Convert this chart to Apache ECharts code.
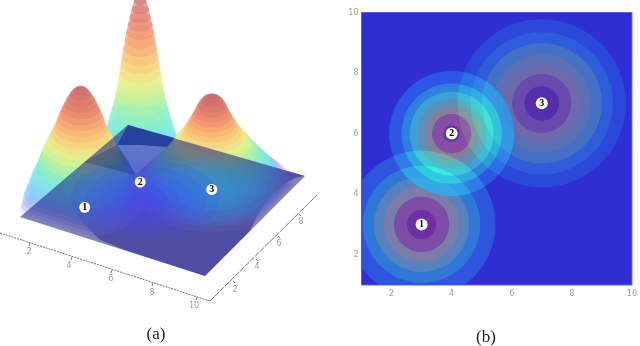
<!DOCTYPE html>
<html><head><meta charset="utf-8">
<style>html,body{margin:0;padding:0;background:#fff}#c{width:640px;height:346px}</style>
<script src="https://cdn.jsdelivr.net/npm/echarts@6/dist/echarts.min.js"></script>
</head><body><div id="c"></div>
<script>
// ---- shared data
const centresX = [3, 4, 7];
const centresY = [3, 6, 7];
const peakLabels = ['1', '2', '3'];
const tickValues = [2, 4, 6, 8, 10];
const depthTickValues = [2, 4, 6, 8];

// ---- panel (b): contour ring radii (data units), outermost first
const ringRadii1 = [2.46, 1.95, 1.58, 1.26, 0.92, 0.48];
const ringRadii2 = [2.08, 1.67, 1.40, 1.15, 0.90, 0.65, 0.27];
const ringRadii3 = [2.80, 2.37, 2.00, 1.64, 1.30, 0.98, 0.57];
const ringColors1 = ['#2f55e0', '#2f78d8', '#5f82bc', '#887ca0', '#8c4c9e', '#7a249c'];
const ringColors2 = ['#2f55ea', '#2f80e0', '#3fa0d8', '#6490b4', '#947e94', '#984c9c', '#6a1ca0'];
const ringColors3 = ['#2c48dc', '#2f5cdc', '#4870c4', '#6270b0', '#7a68a4', '#7648a4', '#5c2ca4'];

// ---- panel (a): radial height profile of each peak (radius in data units, height in relative units)
const levelHeight = [.04,.07,.10,.14,.18,.22,.26,.30,.34,.38,.42,.46,.50,.54,.58,.62,.66,.70,.74,.78,.82,.86,.90,.94,.97,.99];
const profileRadius1 = [2.65,2.57,2.5,2.4,2.28,2.17,2.08,1.98,1.88,1.8,1.72,1.65,1.56,1.46,1.36,1.25,1.15,1.05,.98,.9,.8,.7,.6,.47,.34,.22];
const profileRadius2 = [2.6,2.38,2.2,2.0,1.82,1.66,1.52,1.42,1.32,1.23,1.13,1.06,1.0,.95,.89,.83,.78,.72,.66,.6,.53,.45,.37,.27,.18,.1];
const profileRadius3 = [3.55,3.4,3.25,3.05,2.88,2.72,2.57,2.42,2.27,2.12,1.98,1.84,1.7,1.56,1.42,1.28,1.17,1.06,.97,.88,.78,.7,.62,.5,.38,.22];
const peakTop = [122, 194, 96];
const peakShift = [-4, 0, 0];
const levelColors = ['#c0bcf8','#a8b0f8','#98b4f8','#88c0f8','#80d0f8','#80dcf4','#80e8ec','#80ecdc','#88f0c8','#98f0b8','#b0f0a8','#c8f298','#e0f290','#f0ec88','#f6dc80','#f8cc7c','#f8bc78','#f8ac74','#f69c70','#f09070','#e8846c','#e07c6c','#d8746c','#d06e6c','#c86a6a','#c46868'];
const levelAlpha = [.3,.35,.45,.5,.55,.6,.6,.6,.6,.6,.6,.6,.6,.6,.6,.6,.6,.6,.6,.6,.6,.6,.6,.6,.6,.6];

// plane corners on screen: (1,1), (10,1), (10,10), (1,10)
const planeCornerX = [20, 205, 305, 128];
const planeCornerY = [217, 276, 176, 125];
const planeColor = 'rgba(6,6,120,0.5)';
// floor glow: centre and discs
const glowCentre = [4.8, 5.1];
const glowRadii = [3.2, 2.6, 2.0, 1.4, 0.9, 0.5];
// teal tint of the floor around peak 3 and peak 1
const tintCentreX = [7, 7, 7, 7, 7, 5.6, 5.6, 2.8, 2.8];
const tintCentreY = [7, 7, 7, 7, 7, 7.2, 7.2, 5.2, 5.2];
const tintRadii = [2.8, 2.4, 2.0, 1.6, 1.2, 1.9, 1.3, 1.9, 1.2];
// under-surface outline (data coords): plane without the two pale corners
const underX = [1.0,1.83,2.6,3.47,4.78,6.1,10,10,9.7,9.55,9.45,9.5,9.7,10,1];
const underY = [3.4,3.5,2.8,2.0,1.18,1.03,1,5,6.2,7,8,9,9.7,10,10];
// shading seen through the plane near the back corner (screen units)
const darkWedgeX = [128, 175, 167, 140, 117];
const darkWedgeY = [125, 138, 147, 145, 145];
const darkTailX = [84, 117, 127, 135];
const darkTailY = [162, 145, 158, 175];
const paleVeeX = [117, 140, 167, 136];
const paleVeeY = [145, 145, 147, 174];

// screen axes of panel (a)
const frontAxisStart = [0, 233], frontAxisEnd = [210, 301];
const sideAxisStart = [210, 301], sideAxisEnd = [317, 195];
const frontTickX = [30, 72, 112, 153, 197], frontTickY = [243, 257, 270, 283, 297];
const frontLabelX = [29, 69, 111, 152, 194], frontLabelY = [252, 266, 279, 293, 306];
const sideTickX = [233, 256, 278, 299], sideTickY = [281, 259, 236, 214];
const sideLabelX = [235, 257, 279, 301], sideLabelY = [290, 267, 244, 222];

// ---- helpers
function project(x, y, z) {
  const u = (x - 1) / 9, v = (y - 1) / 9;
  const w = [(1-u)*(1-v), u*(1-v), u*v, (1-u)*v];
  let px = 0, py = 0;
  for (let i = 0; i < 4; i++) { px += w[i]*planeCornerX[i]; py += w[i]*planeCornerY[i]; }
  return [px, py - z];
}
function clampDomain(v) { return Math.max(1, Math.min(10, v)); }
function circlePts(api, cx, cy, r, z, shift) {
  const pts = [];
  for (let i = 0; i < 64; i++) {
    const a = i / 64 * Math.PI * 2;
    const s = project(clampDomain(cx + r*Math.cos(a)), clampDomain(cy + r*Math.sin(a)), z);
    pts.push(api.coord([s[0] + (shift || 0), s[1]]));
  }
  return pts;
}
// outline that joins a contour to the contour above it, so each band reads as a slice of the slope
function convexHull(points) {
  const pts = points.slice().sort((a, b) => a[0] - b[0] || a[1] - b[1]);
  const cross = (o, a, b) => (a[0]-o[0])*(b[1]-o[1]) - (a[1]-o[1])*(b[0]-o[0]);
  const build = list => {
    const out = [];
    list.forEach(p => {
      while (out.length >= 2 && cross(out[out.length-2], out[out.length-1], p) <= 0) out.pop();
      out.push(p);
    });
    out.pop();
    return out;
  };
  return build(pts).concat(build(pts.slice().reverse()));
}
function hexParts(hex) {
  const n = parseInt(hex.slice(1), 16);
  return [n>>16, (n>>8)&255, n&255];
}
function withAlpha(hex, a) {
  const c = hexParts(hex);
  return 'rgba(' + c[0] + ',' + c[1] + ',' + c[2] + ',' + a + ')';
}
const backdropGreen = 46;

// ---- build rows
const radiiByPeak = [profileRadius1, profileRadius2, profileRadius3];
const surfaceRows = [];
[1, 2, 0].forEach(p => levelHeight.forEach((h, i) => surfaceRows.push([p, i])));
const ringRows = [];
[[ringRadii3, ringColors3, 2], [ringRadii1, ringColors1, 0], [ringRadii2, ringColors2, 1]].forEach(set => {
  set[0].forEach((r, i) => ringRows.push([centresX[set[2]], centresY[set[2]], r, i + 1 < set[0].length ? set[0][i + 1] : 0, set[1][i]]));
});
const screenPolygon = (api, xs, ys, fill) => ({type: 'polygon', shape: {points: xs.map((x, i) => api.coord([x, ys[i]]))}, style: {fill: fill}});

const option = {
  animation: false,
  backgroundColor: '#fff',
  title: [
    {text: '(a)', left: 151, top: 321, textAlign: 'center', textStyle: {fontFamily: 'Liberation Serif', fontSize: 17, fontWeight: 'normal', color: '#222'}},
    {text: '(b)', left: 481, top: 324, textAlign: 'center', textStyle: {fontFamily: 'Liberation Serif', fontSize: 17, fontWeight: 'normal', color: '#222'}}
  ],
  grid: [{left: 0, top: 0, width: 320, height: 346}, {left: 361.5, top: 12.5, width: 274.5, height: 272.5, show: true, backgroundColor: '#2e2ed2', borderColor: '#5a5af0', borderWidth: 1}],
  xAxis: [
    {type: 'value', gridIndex: 0, min: 0, max: 320, show: false},
    {type: 'value', gridIndex: 1, min: 1, max: 10, splitLine: {show: false}, axisLine: {show: false}, axisTick: {show: false},
     axisLabel: {customValues: tickValues, color: '#a0a0a0', fontSize: 8, fontFamily: 'DejaVu Sans', margin: 5}}
  ],
  yAxis: [
    {type: 'value', gridIndex: 0, min: 0, max: 346, inverse: true, show: false},
    {type: 'value', gridIndex: 1, min: 1, max: 10, splitLine: {show: false}, axisLine: {show: false}, axisTick: {show: false},
     axisLabel: {customValues: tickValues, color: '#a0a0a0', fontSize: 8, fontFamily: 'DejaVu Sans', margin: 3}}
  ],
  series: [
    // under-surface
    {type: 'custom', xAxisIndex: 0, yAxisIndex: 0, z: 2, silent: true, data: [0], clip: false,
     renderItem: (p, api) => ({type: 'polygon', shape: {points: underX.map((x, i) => api.coord(project(x, underY[i], 0)))}, style: {fill: '#9696ce'}})},
    // peaks
    {type: 'custom', xAxisIndex: 0, yAxisIndex: 0, z: 3, silent: true, data: surfaceRows, clip: false,
     renderItem: (p, api) => {
       const k = api.value(0), i = api.value(1), next = Math.min(i + 1, levelHeight.length - 1);
       const lower = circlePts(api, centresX[k], centresY[k], radiiByPeak[k][i], levelHeight[i] * peakTop[k], peakShift[k]);
       const upper = circlePts(api, centresX[k], centresY[k], radiiByPeak[k][next], levelHeight[next] * peakTop[k], peakShift[k]);
       return {type: 'polygon', shape: {points: convexHull(lower.concat(upper))}, style: {fill: withAlpha(levelColors[i], levelAlpha[i])}};
     }},
    // plane
    {type: 'custom', xAxisIndex: 0, yAxisIndex: 0, z: 4, silent: true, data: [0], clip: false,
     renderItem: (p, api) => ({type: 'polygon', shape: {points: planeCornerX.map((x, i) => api.coord([x, planeCornerY[i]]))}, style: {fill: planeColor}})},
    // floor tint
    {type: 'custom', xAxisIndex: 0, yAxisIndex: 0, z: 5, silent: true, data: tintRadii, clip: false,
     renderItem: (p, api) => {
       const i = p.dataIndex;
       return {type: 'polygon', shape: {points: circlePts(api, tintCentreX[i], tintCentreY[i], tintRadii[i], 0)}, style: {fill: 'rgba(50,160,225,0.11)'}};
     }},
    // glow
    {type: 'custom', xAxisIndex: 0, yAxisIndex: 0, z: 5, silent: true, data: glowRadii, clip: false,
     renderItem: (p, api) => ({type: 'polygon', shape: {points: circlePts(api, glowCentre[0], glowCentre[1], api.value(0), 0)}, style: {fill: 'rgba(70,70,255,0.15)'}})},
    // back-corner shading
    {type: 'custom', xAxisIndex: 0, yAxisIndex: 0, z: 5, silent: true, data: [0], clip: false,
     renderItem: (p, api) => ({type: 'group', children: [
       screenPolygon(api, darkWedgeX, darkWedgeY, 'rgba(20,30,150,0.6)'),
       screenPolygon(api, darkTailX, darkTailY, 'rgba(20,40,110,0.3)'),
       screenPolygon(api, paleVeeX, paleVeeY, 'rgba(125,125,225,0.45)')
     ]})},
    // axes of panel (a)
    {type: 'custom', xAxisIndex: 0, yAxisIndex: 0, z: 6, silent: true, data: [0], clip: false,
     renderItem: (p, api) => {
       const kids = [];
       const line = (a, b, dash) => kids.push({type: 'line', shape: {x1: api.coord(a)[0], y1: api.coord(a)[1], x2: api.coord(b)[0], y2: api.coord(b)[1]}, style: {stroke: '#777', lineWidth: 1, lineDash: dash}});
       line(frontAxisStart, frontAxisEnd, [2, 1]);
       line(sideAxisStart, sideAxisEnd, [6, 1]);
       const txt = (s, x, y) => kids.push({type: 'text', style: {text: s, x: api.coord([x, y])[0], y: api.coord([x, y])[1], fill: '#a0a0a0', fontSize: 8, fontFamily: 'DejaVu Sans', align: 'center', verticalAlign: 'middle'}});
       tickValues.forEach((t, i) => {
         line([frontTickX[i], frontTickY[i]], [frontTickX[i]-1, frontTickY[i]+3]);
         txt(String(t), frontLabelX[i], frontLabelY[i]);
       });
       depthTickValues.forEach((t, i) => {
         line([sideTickX[i], sideTickY[i]], [sideTickX[i]+2, sideTickY[i]+2]);
         txt(String(t), sideLabelX[i], sideLabelY[i]);
       });
       return {type: 'group', children: kids};
     }},
    // panel (a) peak markers
    {type: 'custom', xAxisIndex: 0, yAxisIndex: 0, z: 7, silent: true, data: peakLabels, clip: false,
     renderItem: (p, api) => {
       const i = p.dataIndex, c = api.coord(project(centresX[i], centresY[i], 2));
       return {type: 'group', children: [
         {type: 'circle', shape: {cx: c[0], cy: c[1], r: 5.5}, style: {fill: '#fff'}},
         {type: 'text', style: {text: peakLabels[i], x: c[0], y: c[1], align: 'center', verticalAlign: 'middle', fill: '#000', fontSize: 10, fontWeight: 'bold', fontFamily: 'Liberation Serif'}}
       ]};
     }},
    // panel (b) rings: red/blue painted over, green added so overlaps brighten
    {type: 'custom', xAxisIndex: 1, yAxisIndex: 1, z: 3, silent: true, data: ringRows, clip: true,
     renderItem: (p, api) => {
       const c = api.coord([api.value(0), api.value(1)]);
       const r = api.size([api.value(2), 0])[0], r0 = api.size([api.value(3), 0])[0];
       const rgb = hexParts(ringRows[p.dataIndex][4]);
       return {type: 'ring', shape: {cx: c[0], cy: c[1], r: r, r0: r0}, style: {fill: 'rgba(' + rgb[0] + ',' + backdropGreen + ',' + rgb[2] + ',0.85)'}};
     }},
    {type: 'custom', blendMode: 'lighter', xAxisIndex: 1, yAxisIndex: 1, z: 4, silent: true, data: ringRows, clip: true,
     renderItem: (p, api) => {
       const c = api.coord([api.value(0), api.value(1)]);
       const r = api.size([api.value(2), 0])[0], r0 = api.size([api.value(3), 0])[0];
       const rgb = hexParts(ringRows[p.dataIndex][4]);
       return {type: 'ring', shape: {cx: c[0], cy: c[1], r: r, r0: r0}, style: {fill: 'rgb(0,' + Math.max(0, rgb[1] - backdropGreen) + ',0)'}};
     }},
    // panel (b) markers
    {type: 'scatter', xAxisIndex: 1, yAxisIndex: 1, z: 7, silent: true, symbolSize: 12, itemStyle: {color: '#fff', opacity: 1},
     data: centresX.map((x, i) => [x, centresY[i], peakLabels[i]]),
     label: {show: true, position: 'inside', formatter: d => d.value[2], color: '#000', fontSize: 10, fontWeight: 'bold', fontFamily: 'Liberation Serif'}}
  ]
};
echarts.init(document.getElementById('c'), null, {renderer: 'canvas'}).setOption(option);
</script></body></html>
